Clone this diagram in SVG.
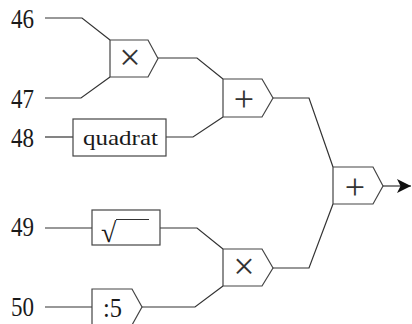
<svg xmlns="http://www.w3.org/2000/svg" width="412" height="324" viewBox="0 0 412 324">
<style>
.n{font-family:"Liberation Serif","DejaVu Serif",serif;font-size:28px;fill:#1a1a1a}
.box{fill:#fff;stroke:#444;stroke-width:1.2}
.op{font-family:"Liberation Serif","DejaVu Serif",serif;fill:#333;text-anchor:middle}
.w{fill:none;stroke:#333;stroke-width:1.2}
.t{font-family:"Liberation Serif","DejaVu Serif",serif;fill:#1a1a1a}
</style>
<defs>
<marker id="ah" markerWidth="15" markerHeight="15" refX="14" refY="7" orient="auto" markerUnits="userSpaceOnUse">
<path d="M0,0 L14,7 L0,14 L3.5,7 Z" fill="#111"/>
</marker>
</defs>
<g id="labels">
<text class="n" x="11" y="28" textLength="23" lengthAdjust="spacingAndGlyphs">46</text>
<text class="n" x="11" y="108" textLength="23" lengthAdjust="spacingAndGlyphs">47</text>
<text class="n" x="11" y="147" textLength="23" lengthAdjust="spacingAndGlyphs">48</text>
<text class="n" x="11" y="236" textLength="23" lengthAdjust="spacingAndGlyphs">49</text>
<text class="n" x="11" y="316" textLength="23" lengthAdjust="spacingAndGlyphs">50</text>
</g>
<g id="connectors">
<path class="w" d="M45 18 H82 L110 40"/>
<path class="w" d="M45 98 H81 L110 77"/>
<path class="w" d="M158 58 H197 L223 79"/>
<path class="w" d="M45 137 H73"/>
<path class="w" d="M166 137 H193 L223 117"/>
<path class="w" d="M273 98 H309 L333 167"/>
<path class="w" d="M45 228 H92"/>
<path class="w" d="M160 228 H197 L223 249"/>
<path class="w" d="M45 307 H92"/>
<path class="w" d="M142 307 H195 L223 286"/>
<path class="w" d="M273 268 H309 L333 204"/>
<path class="w" d="M383 186 H411" marker-end="url(#ah)"/>
</g>
<g id="mul1">
<path class="box" d="M110 40 H148 L158 58.5 L148 77 H110 Z"/>
<text class="op" x="130" y="70" font-size="38">×</text>
</g>
<g id="add1">
<path class="box" d="M223 79 H262 L273 98 L262 117 H223 Z"/>
<text class="op" x="244" y="111" font-size="36">+</text>
</g>
<g id="quadrat">
<rect class="box" x="73" y="119" width="93" height="37"/>
<text class="t" x="83" y="145" font-size="22" textLength="75" lengthAdjust="spacingAndGlyphs">quadrat</text>
</g>
<g id="sqrt">
<rect class="box" x="92" y="210" width="68" height="35"/>
<text class="t" x="101" y="242" font-size="28">√</text>
<line x1="116" y1="219.5" x2="149" y2="219.5" stroke="#333" stroke-width="1.2"/>
</g>
<g id="div5">
<path class="box" d="M92 289 H132 L142 307 L132 325 H92 Z"/>
<text class="t" x="103" y="317" font-size="27" textLength="19" lengthAdjust="spacingAndGlyphs">:5</text>
</g>
<g id="mul2">
<path class="box" d="M223 249 H262 L273 268 L262 286 H223 Z"/>
<text class="op" x="244" y="279" font-size="38">×</text>
</g>
<g id="add2">
<path class="box" d="M333 167 H373 L383 186 L373 204 H333 Z"/>
<text class="op" x="355" y="199" font-size="36">+</text>
</g>
</svg>
